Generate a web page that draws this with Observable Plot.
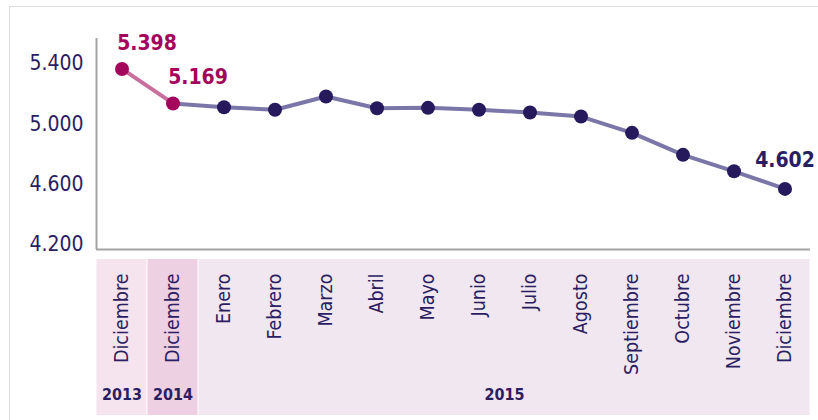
<!DOCTYPE html>
<html><head><meta charset="utf-8">
<script src="https://cdn.jsdelivr.net/npm/d3@7"></script>
<script src="https://cdn.jsdelivr.net/npm/@observablehq/plot@0.6"></script>
<style>
body{margin:0;background:#fff;overflow:hidden}
#wrap{position:relative;width:818px;height:420px;overflow:hidden}
#frame{position:absolute;left:9px;top:6px;width:830px;height:430px;border:1.5px solid #dcdcdc;box-sizing:border-box}
#topPanel{position:absolute;left:0;top:0}
#bottomPanel{position:absolute;left:0;top:252px}
</style></head><body>
<div id="wrap"><div id="frame"></div><div id="topPanel"></div><div id="bottomPanel"></div></div>
<script>
const months = ["Diciembre","Diciembre","Enero","Febrero","Marzo","Abril","Mayo","Junio","Julio","Agosto","Septiembre","Octubre","Noviembre","Diciembre"];
const years = ["2013","2014","2015","2015","2015","2015","2015","2015","2015","2015","2015","2015","2015","2015"];
const values = [5398, 5169, 5144, 5127, 5215, 5137, 5140, 5127, 5109, 5082, 4974, 4828, 4719, 4602];
const yTicks = [4200, 4600, 5000, 5400];
const highlightedYears = ["2013","2014"];
const labelledIndex = [0, 1, 13];

const fmt = d3.formatLocale({decimal: ",", thousands: ".", grouping: [3], currency: ["", ""]}).format(",d");
const FONT = '"DejaVu Sans Condensed","DejaVu Sans",sans-serif';
const NAVY = "#2b1d62";
const MAGENTA = "#a3065a";

const data = values.map((v, i) => ({i, v, month: months[i], year: years[i], hi: highlightedYears.includes(years[i])}));
const seg1 = data.filter(d => d.hi);
const seg2 = data.filter((d, i) => !d.hi || i === seg1.length - 1);
const labHi = data.filter(d => labelledIndex.includes(d.i) && d.hi);
const labLo = data.filter(d => labelledIndex.includes(d.i) && !d.hi);
const n = values.length;

const mainChart = Plot.plot({
  width: 818, height: 252,
  marginLeft: 96, marginRight: 8, marginTop: 38, marginBottom: 3,
  x: {domain: [-0.5, n - 0.5], axis: null},
  y: {domain: [4200, 5600], axis: null},
  color: {type: "identity"},
  style: {fontFamily: FONT, overflow: "visible", background: "transparent"},
  marks: [
    Plot.ruleX([-0.5], {stroke: "#a3a3a3", strokeWidth: 2}),
    Plot.ruleY([4200], {stroke: "#a3a3a3", strokeWidth: 2}),
    Plot.axisY({ticks: yTicks, tickSize: 0, tickPadding: 13, tickFormat: fmt, fontSize: 21, fill: NAVY, dy: -5, label: null}),
    Plot.line(seg1, {x: "i", y: "v", stroke: "#c96f9e", strokeWidth: 4}),
    Plot.line(seg2, {x: "i", y: "v", stroke: "#7a77a8", strokeWidth: 4}),
    Plot.dot(data, {x: "i", y: "v", r: 7, fill: d => d.hi ? MAGENTA : "#261a5c", stroke: "none"}),
    Plot.text(labHi, {x: "i", y: "v", text: d => fmt(d.v), dx: 25, dy: -26, fill: MAGENTA, fontSize: 21, fontWeight: "bold"}),
    Plot.text(labLo, {x: "i", y: "v", text: d => fmt(d.v), dx: 0, dy: -29, fill: NAVY, fontSize: 21, fontWeight: "bold"})
  ]
});
document.getElementById("topPanel").appendChild(mainChart);

const yearFill = {"2013": "#f5e4ee", "2014": "#edd0e1", "2015": "#f0e7f1"};
const groups = d3.groups(data, d => d.year).map(([year, arr]) => ({year, x1: arr[0].i - 0.5, x2: arr[arr.length - 1].i + 0.5}));

const axisPanel = Plot.plot({
  width: 818, height: 168,
  marginLeft: 96, marginRight: 8, marginTop: 7, marginBottom: 5,
  x: {domain: [-0.5, n - 0.5], axis: null},
  y: {axis: null},
  color: {type: "identity"},
  style: {fontFamily: FONT, overflow: "visible", background: "transparent"},
  marks: [
    Plot.rect(groups, {x1: "x1", x2: "x2", fill: d => yearFill[d.year], insetLeft: 0.5, insetRight: 0.5}),
    Plot.text(data, {x: "i", text: "month", rotate: -90, textAnchor: "end", lineAnchor: "middle", frameAnchor: "top", dy: 14, fontSize: 19.5, fill: NAVY}),
    Plot.text(groups, {x: d => (d.x1 + d.x2) / 2, text: "year", frameAnchor: "top", dy: 129, fontSize: 16, fontWeight: "bold", fill: NAVY})
  ]
});
document.getElementById("bottomPanel").appendChild(axisPanel);
</script>
</body></html>
